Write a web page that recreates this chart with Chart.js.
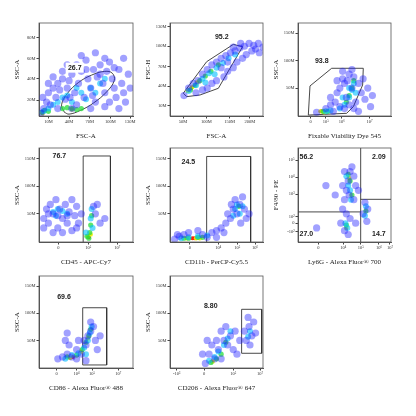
<!DOCTYPE html>
<html><head><meta charset="utf-8">
<script src="https://cdn.jsdelivr.net/npm/chart.js@4/dist/chart.umd.min.js"></script>
<style>body{margin:0;background:#fff;width:416px;height:416px;position:relative;overflow:hidden}canvas{position:absolute}</style>
</head><body>
<script>
// ---------- data (all in 0-100 display coordinates) ----------
const p1Blue=[[2,3],[5,8],[8,15],[4,20],[10,25],[15,30],[12,12],[18,20],[20,35],[25,40],[22,28],[28,18],[30,30],[35,45],[32,38],[38,25],[40,55],[42,35],[45,48],[48,20],[50,60],[52,40],[55,30],[58,50],[60,15],[62,42],[65,55],[68,35],[70,25],[72,48],[75,58],[78,40],[80,30],[82,20],[85,50],[88,35],[90,62],[92,15],[95,45],[60,68],[45,65],[30,55],[15,42],[70,10],[85,8],[97,30],[55,8],[40,12],[35,8],[20,8],[25,48],[50,50],[65,45],[75,15],[90,25],[10,35],[33,20],[57,22],[80,52],[70,62]];
const p1Cyan=[[5,5],[10,8],[15,12],[20,15],[25,20],[30,22],[35,15],[45,25],[55,30],[65,35],[60,25],[50,18],[40,30],[70,40]];
const p1Green=[[3,4],[6,6],[10,5],[25,8],[30,9],[35,8],[40,7],[45,8]];
const p1Yellow=[[4,3],[35,7]];
const p1Red=[];
const p2Blue=[[15,22],[20,30],[25,35],[30,38],[35,45],[40,50],[45,55],[50,58],[55,62],[60,65],[65,68],[70,70],[75,73],[80,75],[85,78],[90,76],[95,78],[100,74],[88,70],[82,66],[78,62],[72,58],[68,52],[62,48],[58,42],[50,38],[45,35],[40,30],[35,28],[28,25],[92,72],[96,68],[76,78],[68,74],[55,52],[62,58]];
const p2Cyan=[[20,27],[28,33],[35,40],[42,46],[50,52],[57,57],[63,62],[70,66],[48,45],[38,36]];
const p2Green=[[22,28],[27,33],[32,38],[38,43],[44,48],[52,55]];
const p2Yellow=[[19,27],[24,31],[29,36]];
const p2Red=[[20,28],[23,30]];
const p3Blue=[[20,4],[30,8],[35,12],[40,15],[42,25],[45,30],[48,40],[50,35],[52,20],[55,45],[58,30],[60,42],[62,15],[65,35],[68,25],[70,40],[72,18],[75,30],[78,10],[45,10],[50,8],[55,12],[60,8],[65,5],[38,5],[80,22],[48,48],[58,50],[53,38],[42,38],[35,20]];
const p3Cyan=[[30,5],[35,6],[45,8],[50,12],[55,20],[58,28],[60,35],[62,25],[55,30],[48,20]];
const p3Green=[[27,5],[32,5],[52,15],[55,22],[58,30],[60,38]];
const p3Yellow=[[24,5],[28,4]];
const p3Red=[[25,5]];
const p4Blue=[[5,25],[8,35],[10,20],[12,40],[15,30],[18,45],[20,15],[22,35],[25,25],[28,40],[30,20],[32,32],[35,45],[38,28],[40,38],[42,20],[45,30],[15,10],[25,10],[35,12],[10,30],[20,28],[30,28],[40,15],[60,30],[62,40],[65,20],[70,25],[58,38],[5,15]];
const p4Cyan=[[15,32],[20,35],[25,33],[30,30],[18,28],[50,10],[55,25],[56,35],[57,15]];
const p4Green=[[51,6],[54,10],[55,18],[56,28],[53,4]];
const p4Yellow=[[52,6],[55,8]];
const p4Red=[[53,5]];
const p5Blue=[[5,3],[10,6],[15,8],[20,10],[30,12],[35,8],[40,5],[45,10],[50,12],[55,15],[60,20],[65,25],[68,35],[70,45],[72,30],[75,40],[78,48],[80,35],[82,25],[76,20],[66,40],[62,30],[58,10],[50,5],[8,8],[85,30]];
const p5Cyan=[[12,4],[20,5],[30,6],[40,7],[70,35],[75,30],[72,40],[78,38],[68,28]];
const p5Green=[[15,4],[20,4],[30,5],[35,5],[74,38]];
const p5Yellow=[[18,4],[28,4],[32,4]];
const p5Red=[[24,4],[26,4]];
const p6Blue=[[48,35],[50,45],[52,55],[54,65],[56,75],[58,80],[60,70],[62,60],[50,75],[55,50],[60,45],[48,60],[46,20],[50,12],[54,8],[56,25],[52,30],[70,30],[72,42],[75,35],[74,22],[40,50],[30,60],[20,15],[62,20],[65,55]];
const p6Cyan=[[52,70],[54,60],[56,55],[57,45],[51,20],[53,15],[73,38],[72,28]];
const p6Green=[[54,72],[56,65],[58,50],[52,18],[73,33]];
const p6Yellow=[[55,68],[52,15]];
const p6Red=[];
const p7Blue=[[20,10],[25,12],[30,15],[35,12],[40,20],[45,15],[50,25],[52,35],[55,40],[58,45],[60,30],[62,20],[55,50],[48,30],[28,30],[30,38],[32,25],[40,10],[50,8],[65,35],[42,30]];
const p7Cyan=[[28,10],[35,14],[42,16],[48,22],[52,30],[54,38],[56,45],[50,15]];
const p7Green=[[30,12],[40,14],[46,20],[50,28],[53,35],[55,42]];
const p7Yellow=[[33,11],[45,18],[52,32]];
const p7Red=[[36,12]];
const p8Blue=[[38,5],[42,15],[45,25],[48,10],[50,30],[52,20],[55,40],[58,30],[60,45],[62,25],[65,35],[68,20],[70,40],[55,10],[35,15],[40,30],[82,30],[85,45],[88,35],[90,50],[84,55],[86,25],[80,40],[92,38],[75,30],[72,15]];
const p8Cyan=[[42,8],[48,12],[52,18],[58,25],[62,32],[65,40],[86,40],[84,34]];
const p8Green=[[44,6],[50,10],[55,15],[60,28]];
const p8Yellow=[[46,7]];
const p8Red=[[45,7]];

// gates
const g1=[[27,4],[24,12],[30,24],[42,36],[56,44],[70,48],[78,46],[80,38],[72,26],[58,14],[44,6],[32,2],[27,4]];
const g2=[[14.3,24.5],[39.4,58.4],[68.1,77],[78.1,74.5],[64.5,51.3],[52,29.8],[32.3,22.6],[18,20.8],[14.3,24.5]];
const g3=[[12.9,32.3],[36.2,51.3],[70.2,51.3],[69.5,33.3],[59.5,10],[52.3,2.9],[11.1,1],[12.9,32.3]];
const g4=[[47,0],[47,91.5],[76,91.5],[76,0]];
const g5=[[39.4,0],[39.4,91],[86.7,91],[86.7,0]];
const g6a=[[0,32],[67.4,32]],g6b=[[67.4,0],[67.4,100]],g6c=[[67.4,45.4],[100,45.4]];
const g7=[[46.5,3.3],[46.5,65.5],[72,65.5],[72,3.3],[46.5,3.3]];
const g8=[[77,16],[77,63.8],[98.6,63.8],[98.6,16],[77,16]];

// ticks
const xt1=[[10,'10M'],[32,'40M'],[54,'70M'],[76,'100M'],[97,'130M']], yt1=[[17,'20M'],[40,'40M'],[62,'60M'],[84,'80M']];
const xt2=[[14,'50M'],[39,'100M'],[64,'150M'],[86,'200M']], yt2=[[11,'10M'],[32,'40M'],[53,'70M'],[75,'100M'],[96,'130M']];
const xt3=[[13.6,'0'],[30,'10⁵'],[47,'10⁶'],[77,'10⁷']], ytS=[[30,'50M'],[59.5,'100M'],[89,'150M']];
const xt4=[[20.5,'0'],[52.5,'10⁵'],[83.3,'10⁷']];
const xt5=[[21.5,'0'],[52,'10⁴'],[72.4,'10⁵'],[91.4,'10⁶']];
const xt6=[[21.8,'0'],[48.7,'10⁴'],[67.4,'10⁵'],[87,'10⁶'],[98.9,'10⁷']], yt6=[[11,'-10²'],[20,'0'],[27,'10²'],[51,'10³'],[69,'10⁴'],[87,'10⁵']];
const xt7=[[18.8,'0'],[40,'10⁴'],[56.4,'10⁵'],[84.4,'10⁷']];
const xt8=[[7.2,'-10³'],[36.6,'0'],[68,'10⁵'],[96.8,'10⁷']];

const panels=[
 {box:[39,23,94,93],d:[p1Blue,p1Cyan,p1Green,p1Yellow,p1Red],g:[g1],xt:xt1,yt:yt1,xl:'FSC-A',yl:'SSC-A',lab:[[38,52,'26.7',true]]},
 {box:[170,23,93,93],d:[p2Blue,p2Cyan,p2Green,p2Yellow,p2Red],g:[g2],xt:xt2,yt:yt2,xl:'FSC-A',yl:'FSC-H',lab:[[55.6,85,'95.2']]},
 {box:[298,23,93,93],d:[p3Blue,p3Cyan,p3Green,p3Yellow,p3Red],g:[g3],xt:xt3,yt:ytS,xl:'Fixable Viability Dye 545',yl:'SSC-A',lab:[[25.5,59,'93.8']]},
 {box:[39,148,94,94],d:[p4Blue,p4Cyan,p4Green,p4Yellow,p4Red],g:[g4],xt:xt4,yt:ytS,xl:'CD45 - APC-Cy7',yl:'SSC-A',lab:[[21.6,91,'76.7']]},
 {box:[170,148,93,94],d:[p5Blue,p5Cyan,p5Green,p5Yellow,p5Red],g:[g5],xt:xt5,yt:ytS,xl:'CD11b - PerCP-Cy5.5',yl:'SSC-A',lab:[[19.7,84.6,'24.5']]},
 {box:[298,148,93,94],d:[p6Blue,p6Cyan,p6Green,p6Yellow,p6Red],g:[g6a,g6b,g6c],xt:xt6,yt:yt6,xl:'Ly6G - Alexa Fluor® 700',yl:'F4/80 - PE',lab:[[9,90,'56.2'],[87,90,'2.09'],[9,8,'27.0'],[87,8,'14.7']]},
 {box:[39,276,94,92],d:[p7Blue,p7Cyan,p7Green,p7Yellow,p7Red],g:[g7],xt:xt7,yt:ytS,xl:'CD86 - Alexa Fluor® 488',yl:'SSC-A',lab:[[26.6,77.5,'69.6']]},
 {box:[170,276,93,92],d:[p8Blue,p8Cyan,p8Green,p8Yellow,p8Red],g:[g8],xt:xt8,yt:ytS,xl:'CD206 - Alexa Fluor® 647',yl:'SSC-A',lab:[[43.8,67.4,'8.80']]}
];
const cols=['rgba(30,30,255,0.42)','rgba(0,190,255,0.6)','rgba(40,220,60,0.75)','rgba(240,240,0,0.9)','rgba(255,30,0,0.95)'];
const radii=[3.6,3,2.6,2.2,2];

const frame={id:'frame',afterDraw(c){const a=c.chartArea,x=c.ctx;x.save();x.strokeStyle='#555';x.lineWidth=0.8;x.strokeRect(a.left,a.top,a.right-a.left,a.bottom-a.top);
 const p=c.options.plugins.frame;x.font='bold 7px "Liberation Sans"';x.fillStyle='#222';x.textAlign='center';x.textBaseline='middle';
 p.lab.forEach(l=>{const px=c.scales.x.getPixelForValue(l[0]),py=c.scales.y.getPixelForValue(l[1]);if(l[3]){x.fillStyle='#fff';x.fillRect(px-9,py-5,18,10);x.fillStyle='#222';}x.fillText(l[2],px,py);});x.restore();}};

panels.forEach(p=>{
 const [L,T,W,H]=p.box;const cv=document.createElement('canvas');
 const cl=L-26,ct=T-4,cw=W+26+4,ch=H+4+24;
 cv.style.left=cl+'px';cv.style.top=ct+'px';cv.style.width=cw+'px';cv.style.height=ch+'px';cv.width=cw;cv.height=ch;
 document.body.appendChild(cv);
 const ds=[];
 p.d.forEach((arr,i)=>ds.push({data:arr.map(q=>({x:q[0],y:q[1]})),pointRadius:radii[i],pointBackgroundColor:cols[i],pointBorderWidth:0,showLine:false,clip:0}));
 p.g.forEach(g=>ds.push({data:g.map(q=>({x:q[0],y:q[1]})),showLine:true,pointRadius:0,borderColor:'#333',borderWidth:0.9,fill:false,tension:g===g1?0.4:0}));
 const mk=(tk,title,fitKey,size)=>({type:'linear',min:0,max:100,
  afterBuildTicks:s=>{s.ticks=tk.map(t=>({value:t[0]}));},
  afterFit:s=>{s[fitKey]=size;},
  ticks:{autoSkip:false,maxRotation:0,padding:1,font:{size:4.5,family:'Liberation Serif'},color:'#333',callback:v=>{const f=tk.find(t=>t[0]===v);return f?f[1]:'';}},
  grid:{drawOnChartArea:false,tickLength:2.5,color:'#444'},border:{color:'#555'},
  title:{display:true,text:title,font:{size:7,family:'Liberation Serif'},color:'#222',padding:{top:6,bottom:0}}});
 const xs=mk(p.xt,p.xl,'height',24),ys=mk(p.yt,p.yl,'width',26);ys.title.padding={top:0,bottom:4};
 new Chart(cv,{type:'scatter',data:{datasets:ds},options:{responsive:false,animation:false,events:[],devicePixelRatio:1,
  layout:{padding:{top:4,right:4,left:0,bottom:0}},
  plugins:{legend:{display:false},tooltip:{enabled:false},frame:{lab:p.lab}},scales:{x:xs,y:ys}},plugins:[frame]});
});
</script>
</body></html>
